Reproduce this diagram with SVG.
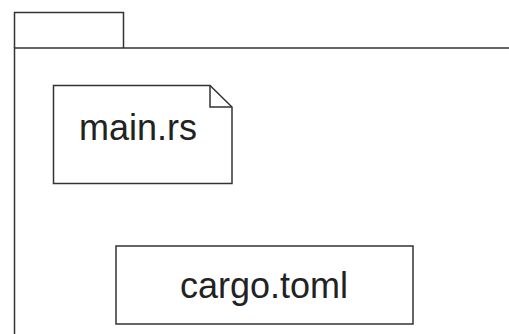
<svg xmlns="http://www.w3.org/2000/svg" width="509" height="334" viewBox="0 0 509 334">
  <style>
    .edge { fill: none; stroke: #333; stroke-width: 1.5; }
    .box { fill: #fff; stroke: #333; stroke-width: 1.5; }
    .label { font-family: "Liberation Sans", Arial, sans-serif; font-size: 36px; fill: #222; text-anchor: middle; }
  </style>
  <rect width="509" height="334" fill="#fff"/>
  <g id="package">
    <path class="edge" d="M14.5,48 V12.5 H123.5 V48"/>
    <path class="edge" d="M14.5,334 V48 H509"/>
  </g>
  <g id="main-rs">
    <path class="box" d="M53.5,85.5 H210 L232,107 V183.5 H53.5 Z"/>
    <path class="edge" d="M210,85.5 V107 H232"/>
    <text class="label" x="138" y="140">main.rs</text>
  </g>
  <g id="cargo-toml">
    <rect class="box" x="116" y="246" width="297" height="78"/>
    <text class="label" x="264" y="298">cargo.toml</text>
  </g>
  <g id="connectors"></g>
</svg>
